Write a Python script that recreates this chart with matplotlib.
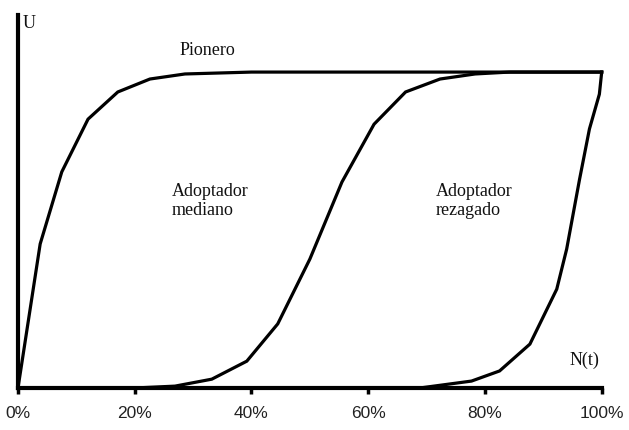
import matplotlib.pyplot as plt

# curve points (x in %, y as share of saturation)
pionero_x = [0, 3.8, 7.5, 12.0, 17.1, 22.6, 28.6, 40.0, 100.0]
pionero_y = [0, 0.456, 0.684, 0.851, 0.937, 0.978, 0.994, 1.0, 1.0]

mediano_x = [19.9, 26.9, 33.2, 39.2, 44.5, 50.0, 55.5, 61.0, 66.4, 72.3, 78.3, 84.2, 100.0]
mediano_y = [0, 0.006, 0.028, 0.085, 0.203, 0.408, 0.652, 0.835, 0.937, 0.978, 0.994, 1.0, 1.0]

rezagado_x = [68.8, 77.7, 82.5, 87.7, 92.3, 94.0, 96.2, 97.9, 99.6, 100.0]
rezagado_y = [0, 0.022, 0.054, 0.139, 0.313, 0.44, 0.66, 0.82, 0.93, 1.0]

xticks = [0, 20, 40, 60, 80, 100]
xlabels = ['0%', '20%', '40%', '60%', '80%', '100%']

fig = plt.figure(figsize=(6.29, 4.31), dpi=100)
ax = fig.add_axes([0.0286, 0.0974, 0.928, 0.865])

for xs, ys in [(pionero_x, pionero_y), (mediano_x, mediano_y), (rezagado_x, rezagado_y)]:
    ax.plot(xs, ys, color='black', lw=2.3, solid_joinstyle='miter', clip_on=False)

ax.set_xlim(0, 100)
ax.set_ylim(0, 1.18)
ax.spines['top'].set_visible(False)
ax.spines['right'].set_visible(False)
ax.spines['left'].set_linewidth(3)
ax.spines['bottom'].set_linewidth(3)
ax.set_yticks([])
ax.set_xticks(xticks)
ax.set_xticklabels(xlabels, family='Liberation Sans', fontsize=12.5, color='#222222')
ax.tick_params(axis='x', direction='out', length=4, width=2.5, pad=8)

serif = dict(family='Liberation Serif', fontsize=13, color='#111111')
ax.text(0.8, 1.185, 'U', va='top', ha='left', **serif)
ax.text(27.6, 1.07, 'Pionero', va='center', ha='left', **serif)
ax.text(26.4, 0.595, 'Adoptador\nmediano', va='center', ha='left', linespacing=1.15, **serif)
ax.text(71.6, 0.595, 'Adoptador\nrezagado', va='center', ha='left', linespacing=1.15, **serif)
ax.text(94.5, 0.09, 'N(t)', va='center', ha='left', **serif)

fig.savefig('out.png', dpi=100)
